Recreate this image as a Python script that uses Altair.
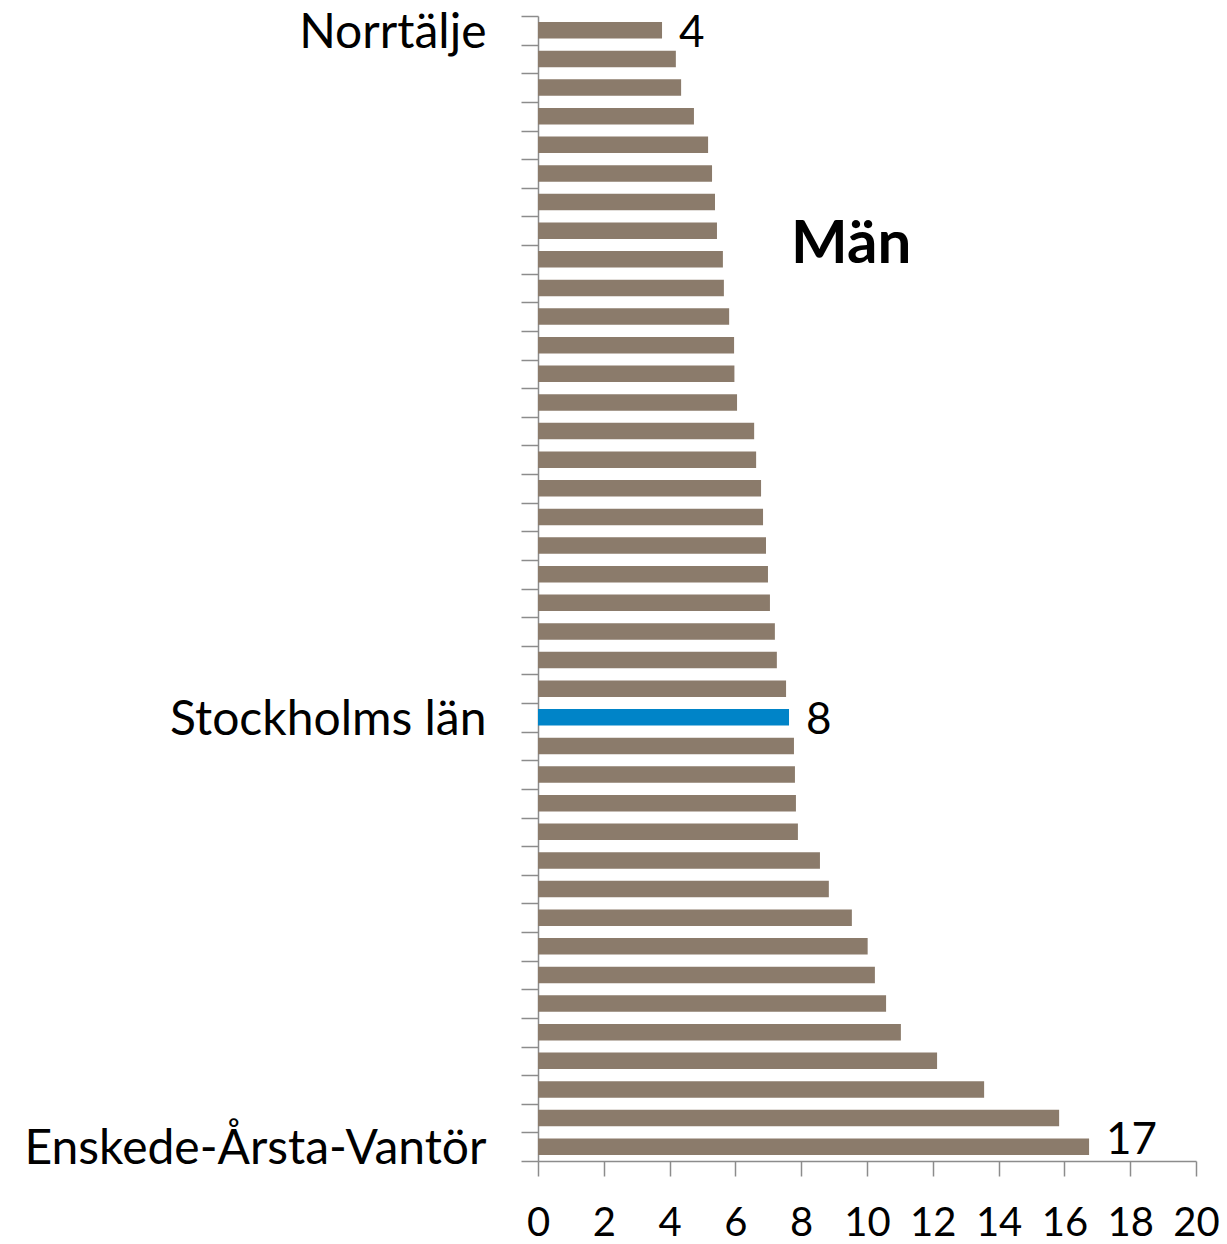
import altair as alt
import pandas as pd

# Values (top to bottom)
values = [3.77, 4.19, 4.35, 4.74, 5.17, 5.29, 5.38, 5.44, 5.62, 5.65,
          5.81, 5.96, 5.97, 6.05, 6.57, 6.63, 6.78, 6.84, 6.93, 6.99,
          7.05, 7.20, 7.26, 7.54, 7.63, 7.78, 7.81, 7.84, 7.90, 8.57,
          8.84, 9.54, 10.02, 10.24, 10.58, 11.03, 12.13, 13.56, 15.84, 16.75]
labels = ["Norrtälje"] + [""] * 23 + ["Stockholms län"] + [""] * 14 + ["Enskede-Årsta-Vantör"]
highlight = "Stockholms län"
x_ticks = list(range(0, 21, 2))
title_text = "Män"

rows = []
for i, (v, lab) in enumerate(zip(values, labels)):
    rows.append({
        "rank": i,
        "label": lab,
        "value": v,
        "group": "hl" if lab == highlight else "base",
        "vlabel": str(int(round(v))) if lab else "",
        "last": i == len(values) - 1,
    })
df = pd.DataFrame(rows)

label_expr = "[" + ",".join("'" + l + "'" for l in labels) + "][datum.value]"

FONT = "Lato"
GRAY = "#8c8c8c"

y_enc = alt.Y("rank:O", title=None,
              scale=alt.Scale(paddingInner=0, paddingOuter=0),
              axis=alt.Axis(labelExpr=label_expr, tickBand="extent",
                            tickSize=17, tickColor=GRAY, tickWidth=1.5,
                            domainColor=GRAY, domainWidth=1.5,
                            labelFontSize=48, labelFont=FONT, labelColor="#000000",
                            labelPadding=35, labelLimit=0, labelBaseline="middle", labelOffset=3))
x_enc = alt.X("value:Q", title=None,
              scale=alt.Scale(domain=[0, 20], nice=False),
              axis=alt.Axis(values=x_ticks, tickSize=15, tickColor=GRAY, tickWidth=1.5,
                            domainColor=GRAY, domainWidth=1.5, grid=False,
                            labelFontSize=40, labelFont=FONT, labelColor="#000000",
                            labelPadding=27, labelFlush=False))

bars = alt.Chart(df).mark_bar(height=alt.RelativeBandSize(0.58)).encode(
    x=x_enc,
    y=y_enc,
    color=alt.Color("group:N", legend=None,
                    scale=alt.Scale(domain=["base", "hl"], range=["#8b7b6b", "#0084c8"])),
)

texts = alt.Chart(df).transform_filter("!datum.last").mark_text(
    align="left", baseline="middle", dx=17, dy=4,
    fontSize=44, font=FONT, color="#000000").encode(
    x="value:Q",
    y="rank:O",
    text="vlabel:N",
)

text_last = alt.Chart(df).transform_filter("datum.last").mark_text(
    align="left", baseline="middle", dx=17, dy=-6,
    fontSize=44, font=FONT, color="#000000").encode(
    x="value:Q",
    y="rank:O",
    text="vlabel:N",
)

title_mark = alt.Chart(pd.DataFrame({"t": [title_text]})).mark_text(
    align="center", baseline="middle", fontSize=60, font=FONT, fontWeight="bold",
    color="#000000").encode(
    x=alt.datum(9.52),
    y=alt.value(229),
    text="t:N",
)

chart = alt.layer(bars, texts, text_last, title_mark).properties(
    width=658, height=1145,
    autosize=alt.AutoSizeParams(type="none"),
    padding={"left": 530, "top": 8, "right": 23, "bottom": 90},
    background="#ffffff",
).configure_view(stroke=None)

chart.save("out.html", embed_options={"renderer": "svg", "actions": False})
